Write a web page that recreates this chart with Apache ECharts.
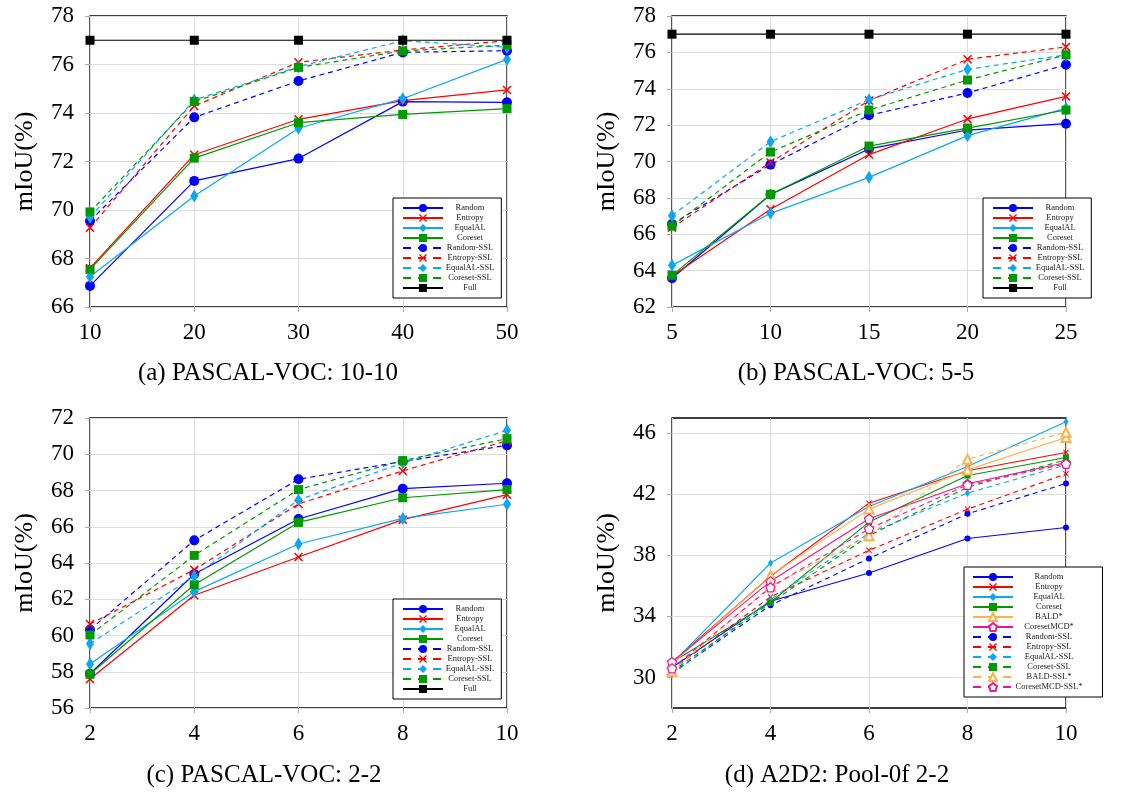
<!DOCTYPE html>
<html><head><meta charset="utf-8">
<script src="https://cdn.jsdelivr.net/npm/echarts@6/dist/echarts.min.js"></script>
<style>html,body{margin:0;padding:0;background:#fff}#c{width:1121px;height:792px}</style>
</head><body><div id="c"></div>
<script>
// ---------- data ----------
const namesABC = ['Random','Entropy','EqualAL','Coreset','Random-SSL','Entropy-SSL','EqualAL-SSL','Coreset-SSL','Full'];
const namesD = ['Random','Entropy','EqualAL','Coreset','BALD*','CoresetMCD*','Random-SSL','Entropy-SSL','EqualAL-SSL','Coreset-SSL','BALD-SSL*','CoresetMCD-SSL*'];

const xA = [10,20,30,40,50];
const aRandom      = [66.87,71.20,72.12,74.47,74.44];
const aEntropy     = [67.60,72.28,73.74,74.51,74.95];
const aEqualAL     = [67.25,70.58,73.37,74.59,76.21];
const aCoreset     = [67.55,72.14,73.60,73.94,74.18];
const aRandomSSL   = [69.55,73.82,75.32,76.50,76.57];
const aEntropySSL  = [69.27,74.29,76.09,76.60,76.98];
const aEqualALSSL  = [69.70,74.54,75.91,76.98,76.71];
const aCoresetSSL  = [69.92,74.47,75.88,76.56,76.80];
const aFull        = [77,77,77,77,77];

const xB = [5,10,15,20,25];
const bRandom      = [63.58,68.19,70.69,71.73,72.08];
const bEntropy     = [63.70,67.37,70.38,72.34,73.58];
const bEqualAL     = [64.29,67.15,69.13,71.42,72.92];
const bCoreset     = [63.74,68.19,70.85,71.84,72.83];
const bRandomSSL   = [66.56,69.83,72.54,73.77,75.32];
const bEntropySSL  = [66.36,69.95,73.35,75.62,76.30];
const bEqualALSSL  = [67.02,71.09,73.40,75.07,75.86];
const bCoresetSSL  = [66.45,70.52,72.83,74.48,75.86];
const bFull        = [77,77,77,77,77];

const xC = [2,4,6,8,10];
const cRandom      = [57.89,63.39,66.43,68.10,68.40];
const cEntropy     = [57.60,62.22,64.33,66.39,67.77];
const cEqualAL     = [58.43,62.42,65.05,66.46,67.24];
const cCoreset     = [57.86,62.80,66.24,67.60,68.05];
const cRandomSSL   = [60.32,65.25,68.62,69.60,70.49];
const cEntropySSL  = [60.63,63.63,67.26,69.08,70.75];
const cEqualALSSL  = [59.55,63.27,67.48,69.52,71.32];
const cCoresetSSL  = [60.03,64.42,68.05,69.65,70.86];
const cFull        = [];

const xD = [2,4,6,8,10];
const dRandom         = [30.65,35.00,36.84,39.11,39.83];
const dEntropy        = [31.00,36.63,41.42,43.54,44.74];
const dEqualAL        = [30.90,37.50,41.20,43.82,46.76];
const dCoreset        = [31.00,34.93,40.18,43.23,44.41];
const dBALD           = [30.90,36.67,41.03,43.60,45.72];
const dCoresetMCD     = [31.02,36.30,40.40,42.69,44.08];
const dRandomSSL      = [30.30,34.73,37.80,40.72,42.71];
const dEntropySSL     = [30.50,35.28,38.33,41.03,43.34];
const dEqualALSSL     = [30.20,35.10,39.46,42.08,43.93];
const dCoresetSSL     = [30.40,34.88,39.29,42.47,44.26];
const dBALDSSL        = [30.41,35.97,39.29,44.30,46.07];
const dCoresetMCDSSL  = [30.60,35.90,39.74,42.62,44.00];

const yTicksD = [30,34,38,42,46];
const titles = ['(a) PASCAL-VOC: 10-10','(b) PASCAL-VOC: 5-5','(c) PASCAL-VOC: 2-2','(d) A2D2: Pool-0f 2-2'];

// ---------- styles ----------
const BLUE='#0000ff', RED='#ff0000', CYAN='#0aa8f0', GREEN='#009a00', ORANGE='#ffb04a', MAG='#f0148c', BLACK='#000';
const XPATH='path://M0,1.2 L1.2,0 L5,3.8 L8.8,0 L10,1.2 L6.2,5 L10,8.8 L8.8,10 L5,6.2 L1.2,10 L0,8.8 L3.8,5 Z';
const PENT='path://M5,0 L10,3.8 L8.1,9.6 L1.9,9.6 L0,3.8 Z';
const FONT='Liberation Serif';

function mk(panel, name, xs, ys, color, symbol, size, dashed, hollow, lw){
  const data = ys.map((v,i)=>[xs[i], v]);
  return {
    type:'line', name: panel+':'+name, xAxisIndex: panel.charCodeAt(0)-97, yAxisIndex: panel.charCodeAt(0)-97,
    data, symbol, symbolSize:size, showSymbol:true, animation:false,
    lineStyle:{color, width:lw||1.2, type: dashed? [5,4] : 'solid'},
    itemStyle: hollow ? {color:'#fff', borderColor:color, borderWidth:1.2} : {color, borderWidth:0},
    emphasis:{disabled:true}
  };
}
const S_ABC = [
  [BLUE,'circle',10,false],[RED,XPATH,9,false],[CYAN,'diamond',[8,13],false],[GREEN,'rect',9,false],
  [BLUE,'circle',10,true],[RED,XPATH,9,true],[CYAN,'diamond',[8,13],true],[GREEN,'rect',9,true],[BLACK,'rect',9,false]
];
const dataA=[aRandom,aEntropy,aEqualAL,aCoreset,aRandomSSL,aEntropySSL,aEqualALSSL,aCoresetSSL,aFull];
const dataB=[bRandom,bEntropy,bEqualAL,bCoreset,bRandomSSL,bEntropySSL,bEqualALSSL,bCoresetSSL,bFull];
const dataC=[cRandom,cEntropy,cEqualAL,cCoreset,cRandomSSL,cEntropySSL,cEqualALSSL,cCoresetSSL,cFull];
const S_D = [
  [BLUE,'circle',6,false,false],[RED,XPATH,6,false,false],[CYAN,'diamond',[5,8],false,false],[GREEN,'rect',6,false,false],
  [ORANGE,'emptyTriangle',9,false,false],[MAG,PENT,9,false,true],
  [BLUE,'circle',6,true,false],[RED,XPATH,6,true,false],[CYAN,'diamond',[5,8],true,false],[GREEN,'rect',6,true,false],
  [ORANGE,'emptyTriangle',9,true,false],[MAG,PENT,9,true,true]
];
const dataD=[dRandom,dEntropy,dEqualAL,dCoreset,dBALD,dCoresetMCD,dRandomSSL,dEntropySSL,dEqualALSSL,dCoresetSSL,dBALDSSL,dCoresetMCDSSL];

const series=[];
const dashedSet={};
[['a',xA,dataA],['b',xB,dataB],['c',xC,dataC]].forEach(([p,xs,ds])=>{
  namesABC.forEach((n,i)=>{const s=S_ABC[i]; if(s[3]) dashedSet[p+':'+n]=1; series.push(mk(p,n,xs,ds[i],s[0],s[1],s[2],s[3],false,1.2));});
});
namesD.forEach((n,i)=>{const s=S_D[i]; if(s[3]) dashedSet['d:'+n]=1; series.push(mk('d',n,xD,dataD[i],s[0],s[1],s[2],s[3],s[4],1.1));});

const grids=[
  {left:90,top:16,width:417,height:291},
  {left:672,top:16,width:394,height:291},
  {left:90,top:418,width:417,height:290},
  {left:672,top:418,width:394,height:290}
].map(g=>Object.assign({show:true,borderColor:'#000',borderWidth:1.3,backgroundColor:'transparent',containLabel:false},g));

const axisCommon = {
  axisLine:{show:false}, axisTick:{show:true,inside:false,length:5,lineStyle:{color:'#aaa'}},
  splitLine:{show:true,lineStyle:{color:'#dcdcdc',width:1}},
};
const xRanges=[[10,50,10,xA],[5,25,5,xB],[2,10,2,xC],[2,10,2,xD]];
const xAxes=xRanges.map((r,i)=>Object.assign({type:'value',gridIndex:i,min:r[0],max:r[1],interval:r[2],
  axisLabel:{fontFamily:FONT,fontSize:23,color:'#000',margin:14}},JSON.parse(JSON.stringify(axisCommon))));
const yRanges=[[66,78,2],[62,78,2],[56,72,2],[28,47,null]];
const yAxes=yRanges.map((r,i)=>{
  const ax=Object.assign({type:'value',gridIndex:i,min:r[0],max:r[1],
    name:'mIoU(%)',nameLocation:'middle',nameGap:52,nameTextStyle:{fontFamily:FONT,fontSize:26,color:'#000'},
    axisLabel:{fontFamily:FONT,fontSize:23,color:'#000',margin:16}},JSON.parse(JSON.stringify(axisCommon)));
  if(r[2]) ax.interval=r[2];
  else { ax.axisLabel.customValues=yTicksD; ax.axisTick.customValues=yTicksD; }
  return ax;
});

function legend(panel, names, left, top, textW, pad){
  return {
    show:true, orient:'vertical', left, top, itemWidth:40, itemHeight:10, itemGap:0,
    padding:pad, borderColor:'#000', borderWidth:1, backgroundColor:'#fff', z:10,
    data: names.map(n=>{
      const key=panel+':'+n;
      return dashedSet[key] ? {name:key, lineStyle:{type:[8,7]}} : {name:key};
    }),
    formatter: (nm)=>'{t|'+nm.split(':')[1]+'}',
    textStyle:{fontFamily:FONT,fontSize:8.5,color:'#222',
      rich:{t:{width:textW,height:10,lineHeight:10,align:'center',fontFamily:FONT,fontSize:8.5,color:'#222'}}},
    selectedMode:false
  };
}
const legends=[
  legend('a',namesABC,393,198,44,[5,7,5,9]),
  legend('b',namesABC,983,198,44,[5,7,5,9]),
  legend('c',namesABC,393,599,44,[5,7,5,9]),
  legend('d',namesD,964,567,62,[5,20,5,8])
];

const titlePos=[[268,361],[856,361],[264,763],[837,763]];
const titleOpts=titles.map((t,i)=>({text:t,left:titlePos[i][0],top:titlePos[i][1],textAlign:'center',padding:0,
  textStyle:{fontFamily:FONT,fontSize:25,fontWeight:'normal',color:'#000'}}));

const chart=echarts.init(document.getElementById('c'),null,{renderer:'canvas'});
chart.setOption({animation:false,backgroundColor:'#fff',title:titleOpts,grid:grids,xAxis:xAxes,yAxis:yAxes,legend:legends,series});
</script></body></html>
